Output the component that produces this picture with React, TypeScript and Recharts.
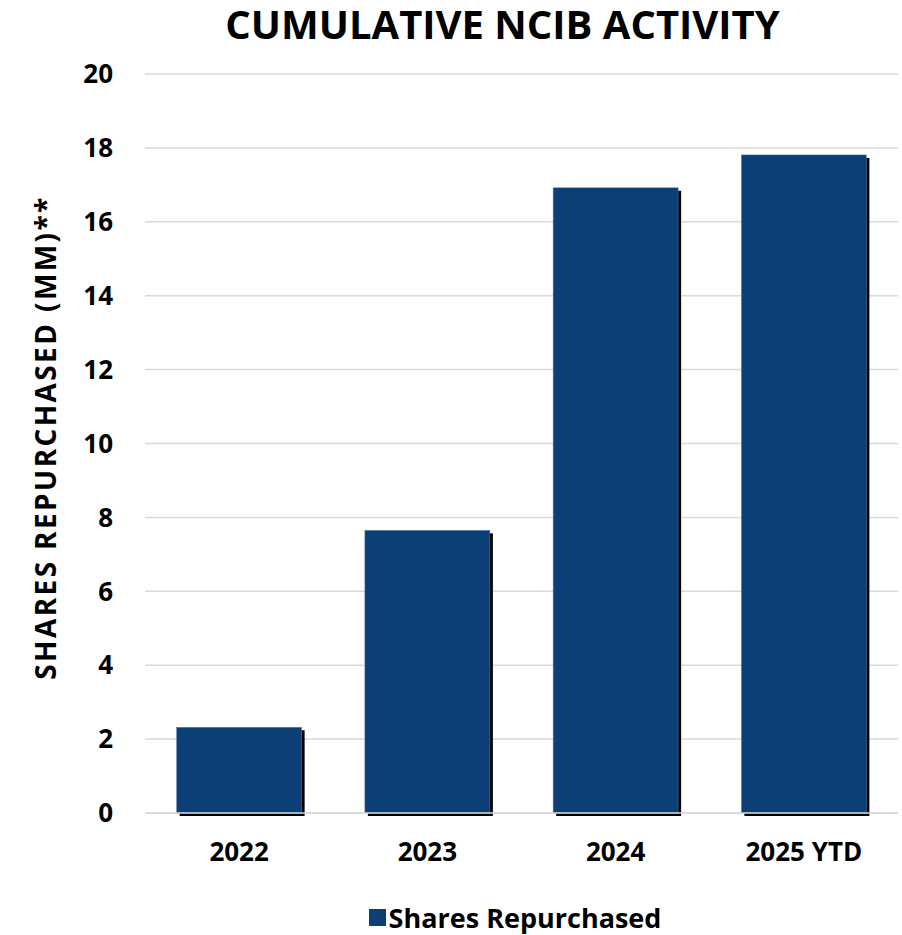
import { BarChart, Bar, XAxis, YAxis, CartesianGrid, Legend } from 'recharts'

const years = ['2022', '2023', '2024', '2025 YTD']
const sharesRepurchased = [2.32, 7.65, 16.92, 17.81]
const yTicks = [0, 2, 4, 6, 8, 10, 12, 14, 16, 18, 20]

const data = years.map((year, i) => ({ year, shares: sharesRepurchased[i] }))

const BAR_COLOR = '#0b3f75'
const FONT = '"Open Sans", sans-serif'

function ShadowBar(props: any) {
  const { x, y, width, height } = props
  if (!height || height <= 0) return null
  return (
    <g>
      <rect x={x + 3} y={y + 3} width={width} height={height} fill="#000" />
      <rect x={x} y={y} width={width} height={height} fill={BAR_COLOR} stroke="#5d82aa" strokeWidth={0.5} />
    </g>
  )
}

function LegendContent() {
  return (
    <div style={{ display: 'flex', justifyContent: 'center', alignItems: 'center', height: 60, paddingTop: 24, paddingLeft: 132, boxSizing: 'border-box' }}>
      <span style={{ width: 17, height: 17, background: BAR_COLOR, display: 'inline-block', marginRight: 3 }} />
      <span style={{ fontFamily: FONT, fontWeight: 700, fontSize: 27, color: '#000' }}>Shares Repurchased</span>
    </div>
  )
}

export default function App() {
  return (
    <div style={{ position: 'absolute', left: 0, top: 0, width: 902, height: 935, background: '#fff', fontFamily: FONT }}>
      <div style={{ position: 'absolute', left: 126, width: 753, top: 0, lineHeight: '48px', textAlign: 'center', fontWeight: 700, fontSize: 40, color: '#000' }}>
        CUMULATIVE NCIB ACTIVITY
      </div>
      <BarChart width={902} height={935} data={data} margin={{ top: 74, right: 4, left: 0, bottom: 0 }} barCategoryGap="16.8%">
        <CartesianGrid vertical={false} stroke="#d9d9d9" strokeWidth={1.5} />
        <XAxis
          dataKey="year"
          axisLine={{ stroke: '#d9d9d9', strokeWidth: 1.5 }}
          tickLine={false}
          height={62}
          tickMargin={24}
          tick={{ fontSize: 26, fontWeight: 700, fill: '#000', fontFamily: FONT }}
        />
        <YAxis
          width={145}
          domain={[0, 20]}
          ticks={yTicks}
          axisLine={false}
          tickLine={false}
          tickMargin={26}
          tick={{ fontSize: 26, fontWeight: 700, fill: '#000', fontFamily: FONT }}
          label={{
            content: ({ viewBox }: any) => {
              const cy = viewBox.y + viewBox.height / 2 - 6
              return (
                <text
                  x={56}
                  y={cy}
                  transform={`rotate(-90, 56, ${cy})`}
                  textAnchor="middle"
                  fontSize={28}
                  fontWeight={700}
                  fontFamily={FONT}
                  letterSpacing={2.4}
                  fill="#000"
                >
                  SHARES REPURCHASED (MM)**
                </text>
              )
            },
          }}
        />
        <Legend verticalAlign="bottom" height={60} content={<LegendContent />} />
        <Bar dataKey="shares" name="Shares Repurchased" fill={BAR_COLOR} shape={<ShadowBar />} isAnimationActive={false} />
      </BarChart>
    </div>
  )
}
